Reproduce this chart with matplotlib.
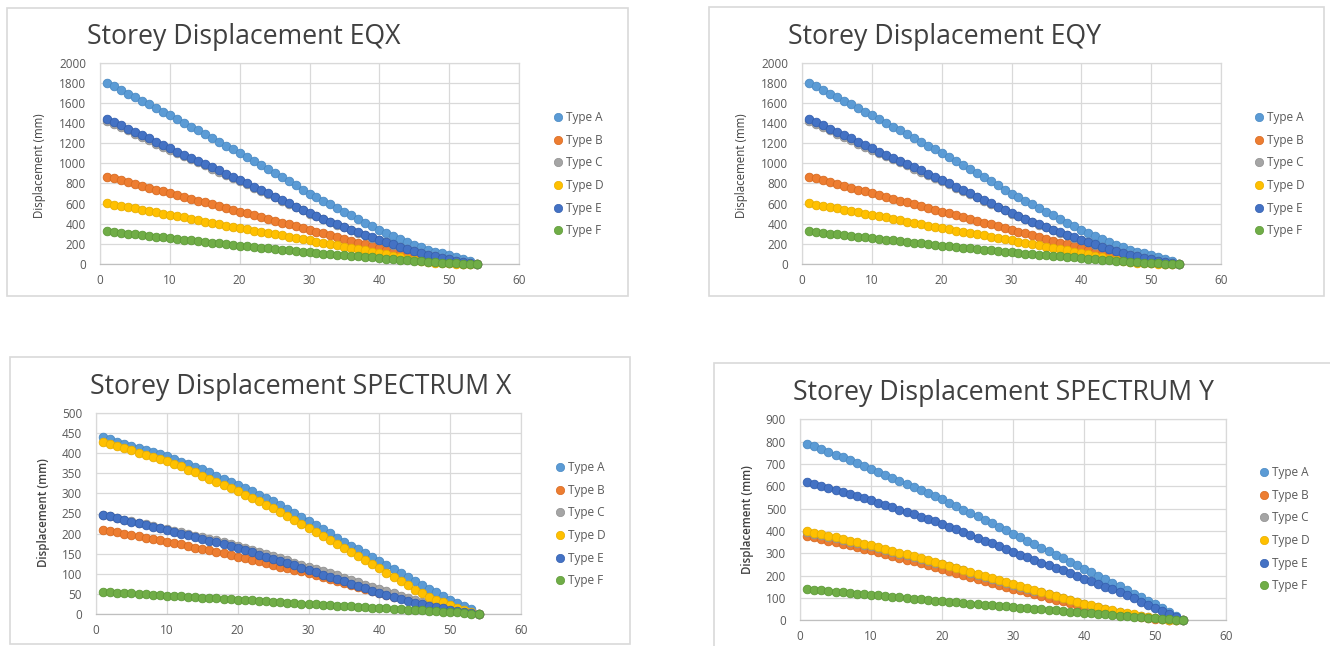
import matplotlib.pyplot as plt
from matplotlib.lines import Line2D
from matplotlib.patches import Rectangle

storey = list(range(1, 55))
types = ['Type A', 'Type B', 'Type C', 'Type D', 'Type E', 'Type F']

# EQX storey displacements (mm)
eqx_a = [1800, 1765, 1730, 1693, 1657, 1620, 1585, 1550, 1515, 1480,
         1442, 1404, 1366, 1328, 1290, 1252, 1214, 1176, 1138, 1100,
         1060, 1020, 980, 940, 900, 860, 820, 780, 740, 700,
         664, 628, 592, 556, 520, 484, 448, 412, 376, 340,
         306, 274, 244, 216, 190, 166, 144, 124, 106, 90,
         68, 46, 25, 0]
eqx_b = [868, 850, 832, 813, 795, 777, 758, 740, 721, 703,
         685, 667, 648, 630, 612, 594, 576, 557, 539, 521,
         503, 485, 467, 449, 431, 412, 394, 376, 358, 340,
         322, 304, 285, 267, 249, 231, 213, 194, 176, 158,
         138, 118, 99, 80, 62, 47, 34, 23, 15, 10,
         6, 3, 1, 0]
eqx_c = [1425, 1392, 1360, 1327, 1295, 1262, 1230, 1197, 1165, 1132,
         1101, 1071, 1040, 1009, 979, 948, 917, 887, 856, 825,
         793, 760, 728, 695, 663, 630, 598, 565, 533, 500,
         472, 445, 417, 390, 363, 337, 312, 287, 262, 238,
         215, 192, 170, 149, 129, 110, 93, 76, 60, 45,
         31, 18, 8, 0]
eqx_d = [604, 591, 578, 565, 552, 539, 526, 514, 501, 488,
         475, 462, 448, 435, 422, 409, 396, 382, 369, 356,
         344, 332, 320, 308, 296, 284, 272, 260, 248, 235,
         222, 210, 197, 185, 172, 160, 147, 135, 122, 109,
         95, 81, 67, 54, 42, 31, 21, 13, 8, 5,
         3, 2, 1, 0]
eqx_e = [1445, 1412, 1379, 1346, 1313, 1280, 1247, 1214, 1181, 1148,
         1117, 1086, 1054, 1023, 992, 960, 929, 898, 866, 835,
         802, 769, 736, 703, 670, 637, 604, 571, 538, 505,
         477, 449, 421, 394, 367, 341, 315, 290, 265, 241,
         217, 194, 172, 151, 131, 112, 94, 77, 61, 46,
         32, 19, 8, 0]
eqx_f = [323, 316, 309, 301, 294, 287, 279, 272, 265, 257,
         249, 242, 234, 227, 219, 211, 204, 196, 189, 181,
         174, 168, 161, 155, 148, 141, 135, 128, 122, 115,
         109, 104, 98, 93, 87, 81, 76, 70, 65, 59,
         54, 49, 44, 39, 34, 29, 24, 19, 14, 10,
         7, 4, 2, 0]

# EQY gives the same storey displacements as EQX
eqy_a, eqy_b, eqy_c = eqx_a, eqx_b, eqx_c
eqy_d, eqy_e, eqy_f = eqx_d, eqx_e, eqx_f

# Response spectrum X (mm)
spx_a = [440, 435, 429, 424, 419, 413, 408, 403, 397, 392,
         386, 379, 373, 366, 360, 352, 344, 337, 329, 321,
         313, 305, 296, 288, 280, 271, 261, 252, 242, 232,
         222, 211, 201, 190, 180, 170, 161, 151, 142, 132,
         122, 112, 101, 91, 81, 72, 63, 54, 45, 36,
         28, 20, 12, 0]
spx_b = [209, 206, 203, 199, 196, 193, 190, 187, 183, 180,
         176, 173, 169, 165, 162, 158, 154, 151, 147, 143,
         139, 135, 131, 127, 123, 118, 114, 110, 106, 102,
         97, 92, 87, 82, 77, 72, 67, 62, 57, 52,
         48, 43, 39, 34, 30, 27, 23, 20, 16, 13,
         9, 6, 3, 0]
spx_c = [247, 243, 239, 235, 231, 227, 223, 219, 215, 211,
         207, 203, 199, 195, 191, 187, 183, 179, 175, 170,
         165, 160, 154, 149, 144, 139, 134, 128, 123, 118,
         112, 107, 101, 96, 90, 84, 79, 73, 68, 62,
         57, 51, 46, 40, 35, 31, 26, 22, 18, 14,
         10, 6, 3, 0]
spx_d = [427, 422, 417, 412, 407, 401, 396, 391, 386, 381,
         374, 367, 359, 352, 344, 337, 329, 321, 314, 306,
         297, 289, 280, 272, 263, 253, 243, 234, 224, 214,
         204, 194, 184, 174, 164, 154, 144, 134, 124, 114,
         103, 92, 82, 71, 60, 51, 43, 36, 29, 23,
         16, 10, 5, 0]
spx_e = [247, 243, 238, 234, 230, 226, 222, 217, 213, 209,
         205, 200, 196, 191, 187, 182, 178, 173, 169, 164,
         159, 153, 148, 142, 137, 132, 126, 121, 115, 110,
         104, 98, 93, 87, 81, 75, 69, 64, 58, 52,
         47, 42, 37, 32, 27, 24, 20, 17, 14, 11,
         8, 5, 2, 0]
spx_f = [55, 54, 53, 52, 51, 50, 49, 48, 47, 46,
         45, 44, 43, 42, 41, 40, 39, 38, 37, 36,
         35, 34, 33, 32, 30, 29, 28, 27, 26, 25,
         24, 23, 22, 21, 20, 19, 18, 17, 16, 15,
         14, 13, 12, 11, 10, 9, 8, 7, 6, 5,
         4, 3, 1, 0]

# Response spectrum Y (mm)
spy_a = [791, 779, 766, 754, 741, 729, 716, 704, 692, 679,
         665, 652, 638, 624, 611, 597, 583, 569, 556, 542,
         527, 511, 496, 480, 465, 450, 434, 419, 403, 388,
         372, 356, 341, 325, 309, 294, 278, 262, 247, 231,
         215, 199, 184, 168, 152, 136, 120, 104, 88, 72,
         54, 36, 18, 0]
spy_b = [378, 371, 364, 357, 349, 342, 335, 328, 320, 313,
         305, 297, 289, 280, 272, 264, 256, 247, 239, 231,
         222, 213, 204, 195, 187, 178, 169, 160, 151, 142,
         134, 126, 117, 109, 101, 93, 85, 76, 68, 60,
         54, 48, 42, 36, 30, 26, 21, 17, 12, 8,
         5, 3, 1, 0]
spy_c = [395, 388, 381, 374, 367, 359, 352, 345, 338, 331,
         323, 315, 307, 299, 291, 283, 275, 266, 258, 250,
         241, 232, 223, 214, 205, 196, 187, 178, 169, 160,
         151, 142, 133, 125, 116, 108, 99, 90, 82, 73,
         65, 58, 50, 43, 36, 30, 25, 19, 14, 9,
         5, 3, 1, 0]
spy_d = [400, 393, 386, 379, 372, 364, 357, 350, 343, 336,
         328, 320, 311, 303, 295, 287, 279, 270, 262, 254,
         245, 236, 227, 218, 209, 200, 191, 182, 173, 164,
         155, 146, 137, 128, 120, 111, 102, 93, 84, 75,
         67, 60, 52, 45, 37, 31, 26, 20, 15, 10,
         6, 3, 1, 0]
spy_e = [619, 610, 601, 592, 583, 573, 564, 555, 546, 537,
         527, 516, 506, 495, 485, 475, 464, 454, 443, 433,
         420, 408, 395, 382, 370, 357, 344, 331, 319, 306,
         294, 282, 270, 258, 247, 235, 223, 211, 199, 187,
         175, 163, 151, 139, 127, 113, 98, 84, 69, 55,
         41, 27, 13, 0]
spy_f = [139, 136, 134, 131, 128, 126, 123, 120, 118, 115,
         112, 109, 106, 103, 100, 97, 94, 91, 88, 85,
         83, 80, 78, 75, 73, 70, 68, 65, 63, 60,
         57, 55, 52, 49, 47, 44, 41, 38, 36, 33,
         31, 28, 26, 24, 21, 19, 17, 15, 12, 10,
         7, 5, 2, 0]

colors = ['#5B9BD5', '#ED7D31', '#A5A5A5', '#FFC000', '#4472C4', '#70AD47']
edges = ['#4a8ac4', '#d86a20', '#909090', '#e8ae00', '#3460b0', '#5e9a38']

plt.rcParams['font.family'] = ['Open Sans', 'DejaVu Sans']

W, H = 1330, 646
fig = plt.figure(figsize=(W / 100, H / 100), dpi=100)


def fx(px):
    return px / W


def fy(py):
    return 1 - py / H


def draw_panel(title, series, ymax, ystep, frame, plot, title_pos, legend_pos,
               label_pos, label_weight='normal'):
    x0, y0, x1, y1 = frame
    fig.add_artist(Rectangle((fx(x0), fy(y1)), fx(x1 - x0), (y1 - y0) / H,
                             transform=fig.transFigure, fill=False,
                             ec='#d9d9d9', lw=1.2))
    px0, py0, px1, py1 = plot
    ax = fig.add_axes([fx(px0), fy(py1), fx(px1 - px0), (py1 - py0) / H])
    for vals, c, e in zip(series, colors, edges):
        ax.plot(storey, vals, '-o', color=c, lw=2.6, ms=6.2, mec=e, mew=0.6,
                zorder=3, clip_on=False)
    ax.set_xlim(0, 60)
    ax.set_ylim(0, ymax)
    ax.set_xticks(range(0, 61, 10))
    ax.set_yticks(range(0, ymax + 1, ystep))
    ax.grid(color='#d9d9d9', lw=0.9)
    ax.set_axisbelow(True)
    for s in ax.spines.values():
        s.set_color('#d9d9d9')
        s.set_linewidth(0.9)
    ax.spines['bottom'].set_color('#bfbfbf')
    ax.tick_params(length=0, labelsize=8.5, colors='#595959')
    ax.tick_params(axis='y', pad=10)
    ax.tick_params(axis='x', pad=7)

    fig.text(fx(title_pos[0]), fy(title_pos[1]), title, fontsize=19.2,
             color='#404040', ha='left', va='center')

    ax.set_ylabel('Displacement (mm)', fontsize=8.3, color='#404040',
                  fontweight=label_weight, va='center')
    ax.yaxis.set_label_coords(fx(label_pos[0]), fy(label_pos[1]),
                              transform=fig.transFigure)

    handles = [Line2D([], [], ls='none', marker='o', ms=6, color=c, mec=e,
                      mew=0.5) for c, e in zip(colors, edges)]
    ax.legend(handles, types, loc='upper left',
              bbox_to_anchor=(fx(legend_pos[0]), fy(legend_pos[1])),
              bbox_transform=fig.transFigure, frameon=False, fontsize=8.5,
              handlelength=0.8, handletextpad=0.3, labelspacing=0.82,
              borderpad=0, borderaxespad=0, labelcolor='#595959')
    return ax


draw_panel('Storey Displacement EQX',
           [eqx_a, eqx_b, eqx_c, eqx_d, eqx_e, eqx_f], 2000, 200,
           frame=(7, 8, 628, 296), plot=(100, 62.7, 519, 264),
           title_pos=(87, 37), legend_pos=(553, 111), label_pos=(40, 166))

draw_panel('Storey Displacement EQY',
           [eqy_a, eqy_b, eqy_c, eqy_d, eqy_e, eqy_f], 2000, 200,
           frame=(709, 7, 1324, 296), plot=(802, 62.7, 1221, 264),
           title_pos=(788, 37), legend_pos=(1254, 111), label_pos=(742, 166))

draw_panel('Storey Displacement SPECTRUM X',
           [spx_a, spx_b, spx_c, spx_d, spx_e, spx_f], 500, 50,
           frame=(10, 357, 630, 644), plot=(96, 413, 521, 614),
           title_pos=(90, 387), legend_pos=(555, 461), label_pos=(43, 513),
           label_weight='semibold')

draw_panel('Storey Displacement SPECTRUM Y',
           [spy_a, spy_b, spy_c, spy_d, spy_e, spy_f], 900, 100,
           frame=(714, 363, 1340, 660), plot=(800, 419.3, 1226, 620.3),
           title_pos=(793, 393), legend_pos=(1259, 466), label_pos=(747, 520),
           label_weight='semibold')

fig.savefig('out.png', dpi=100, facecolor='white')
